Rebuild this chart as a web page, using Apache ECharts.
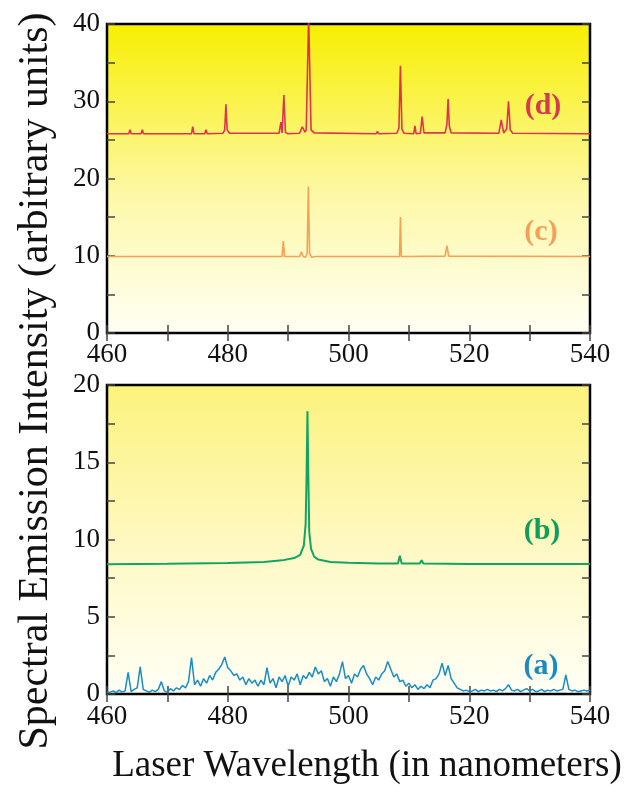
<!DOCTYPE html>
<html>
<head>
<meta charset="utf-8">
<title>Spectral Emission Intensity</title>
<script src="https://cdn.jsdelivr.net/npm/echarts@6/dist/echarts.min.js"></script>
<style>
  html, body { margin: 0; padding: 0; background: #fff; }
  #chart { width: 639px; height: 786px; }
</style>
</head>
<body>
<div id="chart"></div>
<script>
// tick labels
const xTickLabels = [460, 480, 500, 520, 540]
const yTickLabelsTop = [0, 10, 20, 30, 40]
const yTickLabelsBottom = [0, 5, 10, 15, 20]

// (d) red spectrum, top panel
const waveD = [460, 463.6, 463.8, 464.0, 465.65, 465.85, 466.05, 474.0, 474.2, 474.4, 476.2, 476.4, 476.6,
  479.2, 479.5, 479.7, 479.9, 480.3, 488.5, 488.8, 489.0, 489.3, 489.55, 489.9, 491.9, 492.35, 492.8, 493.0,
  493.4, 493.8, 494.3, 504.6, 504.8, 505.0, 508.0, 508.35, 508.6, 508.85, 509.2, 510.8, 511.0, 511.2,
  511.9, 512.2, 512.5, 516.0, 516.3, 516.5, 516.7, 517.0, 524.9, 525.3, 525.7, 526.2, 526.5, 526.8, 527.2, 540]
const intensD = [25.8, 25.8, 26.3, 25.8, 25.8, 26.3, 25.8, 25.8, 26.7, 25.8, 25.8, 26.3, 25.8,
  25.85, 26.3, 29.6, 26.3, 25.85, 25.85, 27.3, 25.9, 30.8, 26.0, 25.8, 25.85, 26.7, 26.0, 26.3,
  41, 26.3, 25.9, 25.8, 26.1, 25.8, 25.85, 26.5, 34.6, 26.4, 25.85, 25.8, 26.8, 25.8,
  25.85, 28.0, 25.9, 25.9, 27.0, 30.3, 26.8, 25.9, 25.85, 27.6, 25.9, 26.4, 30.0, 26.3, 25.85, 25.8]

// (c) orange spectrum, top panel
const waveC = [460, 489.0, 489.2, 489.4, 491.9, 492.2, 492.5, 492.9, 493.15, 493.35, 493.55, 493.9, 494.5,
  508.45, 508.6, 508.75, 516.0, 516.3, 516.6, 540]
const intensC = [9.9, 9.9, 11.9, 9.9, 9.9, 10.5, 9.9, 9.8, 10.3, 18.95, 10.3, 9.8, 9.9,
  9.9, 15.0, 9.9, 9.95, 11.3, 9.95, 9.9]

// (b) green spectrum, bottom panel
const waveB = [460, 470, 480, 486, 489, 491, 492, 492.6, 492.9, 493.05, 493.2, 493.35, 493.5, 493.8, 494.3,
  495, 497, 500, 505, 508.2, 508.5, 508.8, 511.8, 512.1, 512.4, 520, 540]
const intensB = [8.4, 8.43, 8.48, 8.55, 8.65, 8.8, 9.0, 9.6, 11, 14, 18.3, 14, 10.5, 9.4, 8.9,
  8.7, 8.55, 8.5, 8.45, 8.45, 8.95, 8.45, 8.45, 8.65, 8.45, 8.42, 8.42]

// (a) blue spectrum, bottom panel, sampled every 0.5 nm from 460
const startA = 460
const stepA = 0.5
const intensA = [
  0.15, 0.1, 0.2, 0.08, 0.25, 0.12, 0.2, 1.4, 0.15, 0.3, 0.4, 1.75, 0.3, 0.2, 0.1, 0.25, 0.15, 0.3, 0.8, 0.2, 0.1,
  0.35, 0.2, 0.4, 0.3, 0.55, 0.4, 0.8, 2.35, 0.6, 0.9, 0.5, 1.0, 0.7, 1.2, 0.9, 1.4, 1.6, 1.9, 2.4, 1.7,
  1.5, 1.2, 1.3, 0.9, 1.1, 0.6, 1.0, 0.7, 0.9, 0.5, 0.9, 0.6, 1.7, 0.7, 1.0, 0.4, 1.1, 0.8, 1.2, 0.5,
  1.1, 0.9, 1.3, 0.6, 1.2, 1.0, 1.4, 1.1, 1.75, 1.3, 1.5, 0.8, 1.0, 0.5, 1.1, 0.8, 1.3, 2.1, 1.0, 1.2,
  0.7, 1.3, 1.1, 1.6, 1.85, 1.3, 1.0, 0.6, 1.1, 0.9, 1.3, 1.5, 2.1, 1.6, 1.1, 1.3, 0.8, 0.9, 0.5, 0.7,
  0.4, 0.6, 0.3, 0.5, 0.35, 0.6, 0.4, 0.9, 1.0, 1.3, 2.0, 1.2, 1.85, 1.0, 0.7, 0.4, 0.3, 0.2, 0.25, 0.15,
  0.2, 0.3, 0.15, 0.25, 0.2, 0.3, 0.2, 0.25, 0.15, 0.3, 0.2, 0.35, 0.6, 0.25, 0.2, 0.3, 0.15, 0.25, 0.35, 0.2,
  0.3, 0.15, 0.2, 0.3, 0.15, 0.25, 0.2, 0.3, 0.2, 0.25, 0.3, 1.23, 0.3, 0.2, 0.25, 0.15, 0.2, 0.25, 0.2, 0.25
]
const waveA = intensA.map((v, i) => startA + i * stepA)

const serif = 'Liberation Serif, DejaVu Serif, serif'

function pairs (xs, ys) {
  return xs.map((x, i) => [x, ys[i]])
}

function panelBg (top, mid) {
  return new echarts.graphic.LinearGradient(0, 0, 0, 1, [
    { offset: 0, color: top },
    { offset: 0.55, color: mid },
    { offset: 1, color: '#fffff6' }
  ])
}

function xAxisFor (gridIndex, mirror) {
  return {
    type: 'value',
    gridIndex: gridIndex,
    position: mirror ? 'top' : 'bottom',
    min: 460,
    max: 540,
    interval: 10,
    axisLine: { show: false },
    axisTick: { show: true, inside: true, length: 8, lineStyle: { color: '#444', width: 1.5 } },
    splitLine: { show: false },
    axisLabel: {
      show: !mirror,
      color: '#111',
      fontFamily: serif,
      fontSize: 27,
      margin: gridIndex === 0 ? 8 : 9,
      formatter: function (v) {
        return xTickLabels.indexOf(v) >= 0 ? String(v) : ''
      }
    }
  }
}

function yAxisFor (gridIndex, mirror, max, interval, labels) {
  return {
    type: 'value',
    gridIndex: gridIndex,
    position: mirror ? 'right' : 'left',
    min: 0,
    max: max,
    interval: interval,
    axisLine: { show: false },
    axisTick: { show: true, inside: true, length: 8, lineStyle: { color: '#444', width: 1.5 } },
    splitLine: { show: false },
    axisLabel: {
      show: !mirror,
      color: '#111',
      fontFamily: serif,
      fontSize: 27,
      margin: 7,
      formatter: function (v) {
        return labels.indexOf(v) >= 0 ? String(v) : ''
      }
    }
  }
}

function lineSeries (name, xi, yi, data, color, width) {
  return {
    name: name,
    type: 'line',
    xAxisIndex: xi,
    yAxisIndex: yi,
    data: data,
    showSymbol: false,
    symbol: 'none',
    smooth: false,
    clip: true,
    lineStyle: { color: color, width: width },
    z: 3
  }
}

function tag (text, x, y, color) {
  return {
    type: 'text',
    x: x,
    y: y,
    style: {
      text: text,
      fill: color,
      font: 'bold 30px ' + serif,
      align: 'center',
      verticalAlign: 'middle'
    },
    z: 10
  }
}

const option = {
  animation: false,
  backgroundColor: '#fff',
  grid: [
    {
      left: 107, right: 49, top: 24, height: 309,
      show: true,
      backgroundColor: panelBg('#f7ef00', '#fdf8a6'),
      borderColor: '#000',
      borderWidth: 2.5
    },
    {
      left: 107, right: 49, top: 385, height: 309,
      show: true,
      backgroundColor: panelBg('#fcf27c', '#fef9c6'),
      borderColor: '#000',
      borderWidth: 2.5
    }
  ],
  xAxis: [
    xAxisFor(0, false),
    xAxisFor(0, true),
    xAxisFor(1, false),
    xAxisFor(1, true)
  ],
  yAxis: [
    yAxisFor(0, false, 40, 5, yTickLabelsTop),
    yAxisFor(0, true, 40, 5, yTickLabelsTop),
    yAxisFor(1, false, 20, 2.5, yTickLabelsBottom),
    yAxisFor(1, true, 20, 2.5, yTickLabelsBottom)
  ],
  series: [
    lineSeries('(d)', 0, 0, pairs(waveD, intensD), '#e0334f', 1.6),
    lineSeries('(c)', 0, 0, pairs(waveC, intensC), '#f4a25a', 1.6),
    lineSeries('(b)', 2, 2, pairs(waveB, intensB), '#13a463', 2),
    lineSeries('(a)', 2, 2, pairs(waveA, intensA), '#1a8cc2', 1.5)
  ],
  graphic: [
    tag('(d)', 543, 106, '#d63a52'),
    tag('(c)', 541, 232, '#f2a05c'),
    tag('(b)', 542, 531, '#0f9d5a'),
    tag('(a)', 541, 666, '#1b8bbf'),
    {
      type: 'text',
      x: 367,
      y: 766,
      style: {
        text: 'Laser Wavelength (in nanometers)',
        fill: '#111',
        font: '37px ' + serif,
        align: 'center',
        verticalAlign: 'middle'
      }
    },
    {
      type: 'text',
      x: 36,
      y: 381,
      rotation: Math.PI / 2,
      style: {
        text: 'Spectral Emission Intensity (arbitrary units)',
        fill: '#111',
        font: '42px ' + serif,
        align: 'center',
        verticalAlign: 'middle'
      }
    }
  ]
}

const myChart = echarts.init(document.getElementById('chart'))
myChart.setOption(option)
window.addEventListener('resize', function () {
  myChart.resize()
})
</script>
</body>
</html>
